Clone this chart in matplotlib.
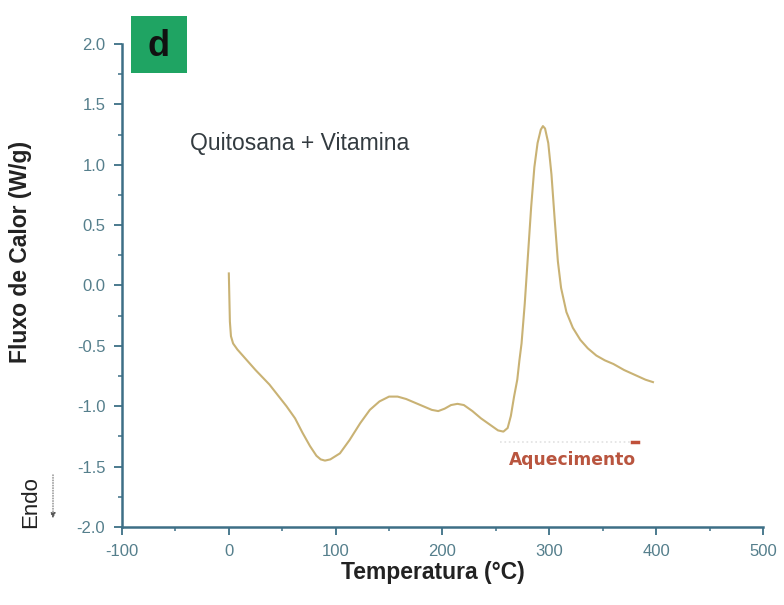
import numpy as np
import matplotlib.pyplot as plt
from matplotlib.ticker import MultipleLocator
from matplotlib.patches import Rectangle

plt.rcParams['font.family'] = ['Liberation Sans', 'DejaVu Sans']
plt.rcParams['axes.unicode_minus'] = False

# DSC curve, chitosan + vitamin
temp = [0, 0.5, 1, 2, 4, 8, 15, 25, 38, 46, 54, 62, 69, 76, 82, 86, 90, 95,
        104, 113, 123, 132, 141, 150, 158, 166, 174, 182, 190, 196, 202, 208,
        214, 220, 228, 236, 244, 252, 257, 261, 264, 267, 270, 272, 274, 277,
        280, 283, 286, 289, 292, 294, 296, 299, 302, 305, 308, 311, 316, 322,
        329, 336, 344, 352, 360, 370, 380, 390, 397]
flux = [0.10, -0.10, -0.30, -0.42, -0.48, -0.53, -0.60, -0.70, -0.82, -0.91,
        -1.00, -1.10, -1.22, -1.33, -1.41, -1.44, -1.45, -1.44,
        -1.39, -1.28, -1.14, -1.03, -0.96, -0.92, -0.92, -0.94, -0.97, -1.00,
        -1.03, -1.04, -1.02, -0.99, -0.98, -0.99, -1.04, -1.10, -1.15, -1.20,
        -1.21, -1.18, -1.08, -0.92, -0.78, -0.62, -0.48, -0.15,
        0.25, 0.65, 0.98, 1.18, 1.29, 1.32, 1.30, 1.18, 0.92, 0.55, 0.20,
        -0.02, -0.22, -0.35, -0.45, -0.52, -0.58, -0.62, -0.65, -0.70, -0.74,
        -0.78, -0.80]

axis_col = '#3d6f86'
tick_col = '#557f8c'

fig = plt.figure(figsize=(7.84, 6.05), dpi=100)
ax = fig.add_axes([0.1556, 0.1289, 0.8176, 0.7984])

ax.plot(temp, flux, color='#c9b274', lw=1.5)

ax.set_xlim(-100, 500)
ax.set_ylim(-2.0, 2.0)
ax.xaxis.set_major_locator(MultipleLocator(100))
ax.xaxis.set_minor_locator(MultipleLocator(50))
ax.yaxis.set_major_locator(MultipleLocator(0.5))
ax.yaxis.set_minor_locator(MultipleLocator(0.25))
ax.yaxis.set_major_formatter(plt.FuncFormatter(lambda v, p: '%.1f' % v))

for s in ['top', 'right']:
    ax.spines[s].set_visible(False)
for s in ['left', 'bottom']:
    ax.spines[s].set_color(axis_col)
    ax.spines[s].set_linewidth(1.8)

ax.tick_params(which='major', length=6, width=1.3, color=axis_col,
               labelcolor=tick_col, labelsize=12, pad=6)
ax.tick_params(which='minor', length=3, width=1.1, color=axis_col)

fig.text(433 / 784, 1 - 572 / 605, 'Temperatura (°C)', fontsize=16.5,
         fontweight='bold', color='#222222', ha='center', va='center')
fig.text(21 / 784, 1 - 252 / 605, 'Fluxo de Calor (W/g)', fontsize=16.5,
         fontweight='bold', color='#222222', ha='center', va='center',
         rotation=90)

ax.text(-36.5, 1.18, 'Quitosana + Vitamina', fontsize=16.5, color='#333b40',
        va='center', ha='left')

# panel letter
fig.add_artist(Rectangle((131 / 784, 1 - 73 / 605), 56 / 784, 57 / 605,
                         transform=fig.transFigure, fc='#1fa463', ec='none'))
fig.text(159 / 784, 1 - 46 / 605, 'd', fontsize=26, fontweight='bold',
         color='#111111', ha='center', va='center')

# heating direction
ax.plot([254, 377], [-1.30, -1.30], color='#e2e2e2', lw=1.2, ls=':')
ax.plot([377, 383], [-1.30, -1.30], color='#c0503a', lw=2.5)
ax.text(322, -1.445, 'Aquecimento', fontsize=12.3, fontweight='bold',
        color='#b9553f', ha='center', va='center', family='DejaVu Sans')

# endothermic direction
fig.text(31 / 784, 1 - 502 / 605, 'Endo', rotation=90, fontsize=16,
         color='#222222', ha='center', va='center')
ax.annotate('', xy=(53 / 784, 1 - 521 / 605), xytext=(53 / 784, 1 - 472 / 605),
            xycoords='figure fraction', textcoords='figure fraction',
            annotation_clip=False,
            arrowprops=dict(arrowstyle='-|>', color='#555555', lw=0.7,
                            linestyle=':', mutation_scale=8))

fig.savefig('out.png', dpi=100)
